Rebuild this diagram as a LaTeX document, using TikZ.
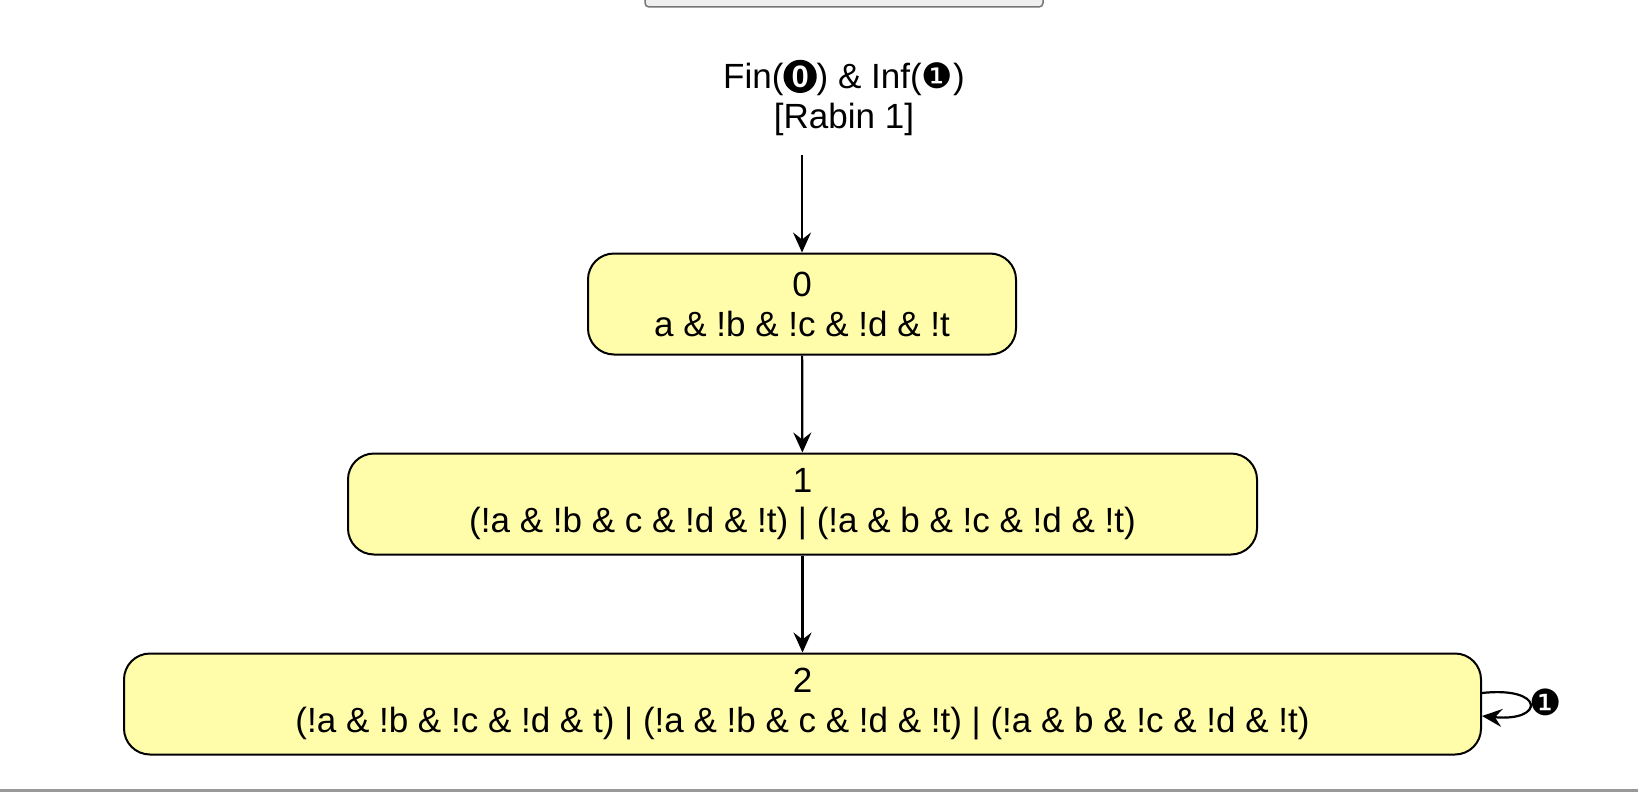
\documentclass[tikz,border=0pt]{standalone}
\usepackage{fontspec}
\setmainfont{Liberation Sans}
\newfontfamily\symfont{DejaVu Sans}
\usepackage{tikz}
\usetikzlibrary{arrows.meta,calc}
\definecolor{statefill}{HTML}{FFFCAA}
\definecolor{btnfill}{HTML}{EFEFEF}
\definecolor{btnline}{HTML}{767676}
\newcommand{\accset}[1]{{\symfont #1}}
% negative circled zero, drawn since no listed font has it
\newcommand{\negzero}{\tikz[baseline=-0.36em]{\node[circle, fill=black, text=white, inner sep=0pt,
    minimum size=0.95em, font=\fontsize{31}{31}\selectfont\bfseries] (nz) {0};}}
\tikzset{
  state/.style={draw=black, line width=2pt, fill=statefill, rounded corners=26pt,
    align=center, inner sep=0pt, minimum height=101pt, font=\fontsize{35}{40}\selectfont},
  trans/.style={line width=2.2pt, -{Stealth[length=20pt, width=18pt, inset=7pt]}},
}

\begin{document}
\begin{tikzpicture}[x=1pt,y=-1pt]
        \useasboundingbox (0,0) rectangle (1638,792);
        % page bits
        \draw[btnline, fill=btnfill, line width=1.5pt, rounded corners=4pt] (645,-20) rectangle (1043,7);
        \fill[black!40] (0,789) rectangle (1638,792);

        % header
        \node[draw=none, color=black, align=center, font=\fontsize{35}{40}\selectfont] (acc) at (844,98)
            {Fin(\negzero) \& Inf(\accset{❶})\\{}[Rabin 1]};
        \coordinate (init) at (802,155);

        % states
        \node[state, minimum width=428pt] (s0) at (802,304) {0\\a \& !b \& !c \& !d \& !t};
        \node[state, minimum width=909pt] (s1) at (802.5,504) {1\\(!a \& !b \& c \& !d \& !t) | (!a \& b \& !c \& !d \& !t)};
        \node[state, minimum width=1357pt] (s2) at (802.5,704) {2\\(!a \& !b \& !c \& !d \& t) | (!a \& !b \& c \& !d \& !t) | (!a \& b \& !c \& !d \& !t)};

        % edges
        \draw[trans] (init) -- (s0);
        \draw[trans] (s0) -- (s1);
        \draw[trans] (s1) -- (s2);
        \draw[trans] ($(s2.east)+(0,-11)$) .. controls (1545,686) and (1545,722) .. ($(s2.east)+(0,12)$);

        % Text
        \node[draw=none, color=black, font=\fontsize{36}{36}\selectfont] (loop) at (1546,702) {\accset{❶}};
\end{tikzpicture}
\end{document}
